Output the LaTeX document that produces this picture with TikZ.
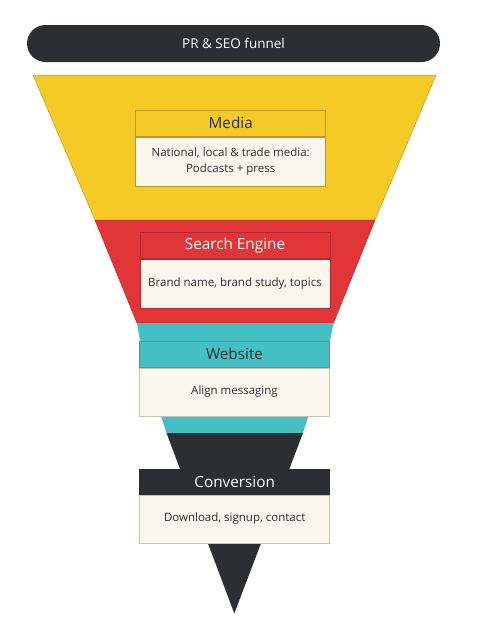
\documentclass[tikz,border=0pt]{standalone}
\usepackage{fontspec}
\setmainfont{Open Sans}
\definecolor{fyellow}{HTML}{F6CA24}
\definecolor{fyellowline}{HTML}{B89A2C}
\definecolor{fred}{HTML}{E13537}
\definecolor{fredline}{HTML}{B42A2C}
\definecolor{fteal}{HTML}{44C0C4}
\definecolor{ftealline}{HTML}{3A9DA0}
\definecolor{fdark}{HTML}{2D2E33}
\definecolor{fcream}{HTML}{F9F6EE}
\definecolor{fgrayline}{HTML}{C8C4BA}
\begin{document}
\begin{tikzpicture}[x=1pt,y=-1pt,
  hdr/.style={draw=#1line,line width=0.5pt,inner sep=0pt,anchor=north,minimum width=190pt,minimum height=26pt,font=\fontsize{15.3}{18}\selectfont},
  bodybox/.style={draw=#1,fill=fcream,line width=0.5pt,inner sep=0pt,anchor=north,minimum width=190pt,minimum height=49pt,align=center,font=\fontsize{11.5}{15.8}\selectfont,text=fdark},
  seg/.style={line width=0.5pt}]
\useasboundingbox (0,0) rectangle (479,640);
% title bar
\node[fill=fdark,rounded corners=18.5pt,minimum width=413pt,minimum height=37pt,inner sep=0pt,text=white,font=\fontsize{13.5}{16}\selectfont] (title) at (233.5,43.5) {PR \& SEO funnel};
% funnel segments
\fill[fyellow,draw=fyellowline,seg] (33,75) -- (436,75) -- (375,220) -- (95,220) -- cycle;
\fill[fred,draw=fredline,seg] (95,220) -- (375,220) -- (333.5,323) -- (137,323) -- cycle;
\fill[fteal,seg] (137,323) -- (333.5,323) -- (330,341) -- (308.5,416) -- (303,433) -- (166.5,433) -- (161,416) -- (140,341) -- cycle;
\fill[fdark] (166.5,433) -- (303,433) -- (234.3,613.5) -- cycle;
% Media
\node[hdr=fyellow,fill=fyellow,text=fdark] (mediah) at (230.7,110) {Media};
\node[bodybox=fyellowline] (mediab) at (mediah.south) {National, local \& trade media:\\Podcasts + press};
% Search Engine
\node[hdr=fred,fill=fred,text=white] (searchh) at (235,232.3) {Search Engine};
\node[bodybox=fredline] (searchb) at (searchh.south) {Brand name, brand study, topics};
% Website
\node[hdr=fteal,fill=fteal,text=fdark] (webh) at (234.5,341) {Website};
\node[bodybox=fgrayline,minimum height=48.4pt] (webb) at (webh.south) {Align messaging};
% Conversion
\node[hdr=fgray,draw=fdark,fill=fdark,text=white,minimum height=24.7pt] (convh) at (234.7,469.3) {Conversion};
\node[bodybox=fgrayline,minimum height=48pt] (convb) at (convh.south) {Download, signup, contact};
\end{tikzpicture}
\end{document}
